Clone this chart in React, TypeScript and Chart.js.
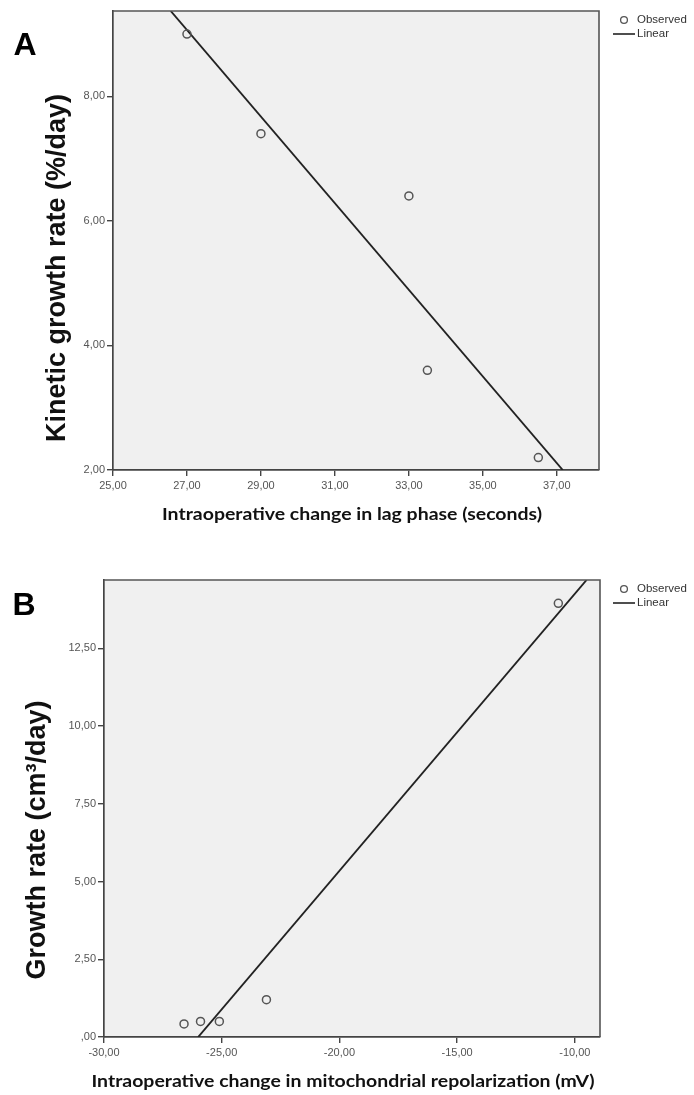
import React, { useEffect, useRef } from "react";
import { Chart, registerables } from "chart.js";

Chart.register(...registerables);

// ---------- Data (panel A) ----------
const obsXA = [27, 29, 33, 33.5, 36.5];
const obsYA = [9.0, 7.4, 6.4, 3.6, 2.2];
const fitXA = [26.56, 37.16];
const fitYA = [9.37, 2.0];
const xTicksA = [25, 27, 29, 31, 33, 35, 37];
const yTicksA = [2, 4, 6, 8];

// ---------- Data (panel B) ----------
const obsXB = [-26.6, -25.9, -25.1, -23.1, -10.7];
const obsYB = [0.42, 0.5, 0.5, 1.2, 13.95];
const fitXB = [-26.0, -9.5];
const fitYB = [0.0, 14.7];
const xTicksB = [-30, -25, -20, -15, -10];
const yTicksB = [0, 2.5, 5, 7.5, 10, 12.5];

const seriesLabels = ["Observed", "Linear"];

const fmt = (v: number) => {
  let s = Number(v).toFixed(2).replace(".", ",");
  s = s.replace(/^(-?)0,/, "$1,");
  return s;
};

const ARIAL = '"Liberation Sans", Arial, sans-serif';

type PanelCfg = {
  letter: string;
  letterX: number;
  letterY: number;
  obsX: number[];
  obsY: number[];
  fitX: number[];
  fitY: number[];
  xTicks: number[];
  yTicks: number[];
  xMin: number;
  xMax: number;
  yMin: number;
  yMax: number;
  yAxisW: number;
  xAxisH: number;
  padTop: number;
  padRight: number;
  yTitle: string;
  yTitleX: number;
  yTitleY: number;
  yTitleSize: number;
  xTitle: string;
  xTitleX: number;
  xTitleY: number;
  xTitleW: number;
  legendX: number;
  legendY: number;
};

function framePlugin(p: PanelCfg) {
  return {
    id: "frame" + p.letter,
    beforeDraw(chart: any) {
      const { ctx, chartArea: a } = chart;
      ctx.save();
      ctx.fillStyle = "#f0f0f0";
      ctx.fillRect(a.left, a.top, a.right - a.left, a.bottom - a.top);
      ctx.restore();
    },
    afterDraw(chart: any) {
      const { ctx, chartArea: a } = chart;
      ctx.save();
      // frame (top and right)
      ctx.strokeStyle = "#555";
      ctx.lineWidth = 1.6;
      ctx.beginPath();
      ctx.moveTo(a.left, a.top);
      ctx.lineTo(a.right, a.top);
      ctx.lineTo(a.right, a.bottom);
      ctx.stroke();

      // panel letter
      ctx.fillStyle = "#000";
      ctx.font = `bold 32px ${ARIAL}`;
      ctx.textAlign = "center";
      ctx.textBaseline = "middle";
      ctx.fillText(p.letter, p.letterX, p.letterY);

      // y title
      ctx.save();
      ctx.translate(p.yTitleX, p.yTitleY);
      ctx.rotate(-Math.PI / 2);
      ctx.font = `bold ${p.yTitleSize}px ${ARIAL}`;
      ctx.fillStyle = "#111";
      ctx.textAlign = "center";
      ctx.textBaseline = "middle";
      ctx.fillText(p.yTitle, 0, 0);
      ctx.restore();

      // x title
      ctx.save();
      ctx.font = `bold 17px Lato, "Open Sans", sans-serif`;
      const w = ctx.measureText(p.xTitle).width;
      ctx.translate(p.xTitleX, p.xTitleY);
      ctx.scale(p.xTitleW / w, 1);
      ctx.fillStyle = "#111";
      ctx.textAlign = "center";
      ctx.textBaseline = "middle";
      ctx.fillText(p.xTitle, 0, 0);
      ctx.restore();

      // legend
      const lx = p.legendX;
      const ly = p.legendY;
      ctx.font = `11.5px ${ARIAL}`;
      ctx.fillStyle = "#333";
      ctx.textAlign = "left";
      ctx.textBaseline = "middle";
      ctx.strokeStyle = "#555";
      ctx.lineWidth = 1.3;
      ctx.beginPath();
      ctx.arc(lx + 11, ly, 3.4, 0, Math.PI * 2);
      ctx.stroke();
      ctx.fillText(seriesLabels[0], lx + 24, ly);
      ctx.strokeStyle = "#222";
      ctx.lineWidth = 1.6;
      ctx.beginPath();
      ctx.moveTo(lx, ly + 14);
      ctx.lineTo(lx + 22, ly + 14);
      ctx.stroke();
      ctx.fillText(seriesLabels[1], lx + 24, ly + 14);
      ctx.restore();
    },
  };
}

function makeConfig(p: PanelCfg): any {
  const tickFont = { family: ARIAL, size: 11 };
  return {
    type: "scatter",
    data: {
      datasets: [
        {
          label: seriesLabels[0],
          data: p.obsX.map((x, i) => ({ x, y: p.obsY[i] })),
          showLine: false,
          pointRadius: 4,
          pointHoverRadius: 4,
          pointBorderWidth: 1.5,
          borderColor: "#555",
          backgroundColor: "rgba(0,0,0,0)",
        },
        {
          label: seriesLabels[1],
          data: p.fitX.map((x, i) => ({ x, y: p.fitY[i] })),
          showLine: true,
          pointRadius: 0,
          borderColor: "#222",
          backgroundColor: "#222",
          borderWidth: 1.9,
        },
      ],
    },
    options: {
      responsive: false,
      animation: false,
      events: [],
      layout: { padding: { left: 0, top: p.padTop, right: p.padRight, bottom: 0 } },
      plugins: { legend: { display: false }, tooltip: { enabled: false } },
      scales: {
        x: {
          type: "linear",
          min: p.xMin,
          max: p.xMax,
          afterFit: (s: any) => {
            s.height = p.xAxisH;
          },
          afterBuildTicks: (s: any) => {
            s.ticks = p.xTicks.map((v) => ({ value: v }));
          },
          ticks: {
            callback: (v: any) => fmt(v),
            font: tickFont,
            color: "#555",
            padding: 3,
            maxRotation: 0,
            autoSkip: false,
          },
          grid: {
            display: true,
            drawOnChartArea: false,
            drawTicks: true,
            tickLength: 6,
            color: "#444",
            lineWidth: 1.4,
          },
          border: { display: true, color: "#444", width: 1.7 },
        },
        y: {
          type: "linear",
          min: p.yMin,
          max: p.yMax,
          afterFit: (s: any) => {
            s.width = p.yAxisW;
          },
          afterBuildTicks: (s: any) => {
            s.ticks = p.yTicks.map((v) => ({ value: v }));
          },
          ticks: {
            callback: (v: any) => fmt(v),
            font: tickFont,
            color: "#555",
            padding: 2,
            autoSkip: false,
          },
          grid: {
            display: true,
            drawOnChartArea: false,
            drawTicks: true,
            tickLength: 6,
            color: "#444",
            lineWidth: 1.4,
          },
          border: { display: true, color: "#444", width: 1.7 },
        },
      },
    },
    plugins: [framePlugin(p)],
  };
}

const panelA: PanelCfg = {
  letter: "A",
  letterX: 25,
  letterY: 46,
  obsX: obsXA,
  obsY: obsYA,
  fitX: fitXA,
  fitY: fitYA,
  xTicks: xTicksA,
  yTicks: yTicksA,
  xMin: 25,
  xMax: 38.14,
  yMin: 2,
  yMax: 9.37,
  yAxisW: 113,
  xAxisH: 75,
  padTop: 11,
  padRight: 95,
  yTitle: "Kinetic growth rate (%/day)",
  yTitleX: 58,
  yTitleY: 268,
  yTitleSize: 27,
  xTitle: "Intraoperative change in lag phase (seconds)",
  xTitleX: 352,
  xTitleY: 515,
  xTitleW: 380,
  legendX: 613,
  legendY: 20,
};

const panelB: PanelCfg = {
  letter: "B",
  letterX: 24,
  letterY: 61,
  obsX: obsXB,
  obsY: obsYB,
  fitX: fitXB,
  fitY: fitYB,
  xTicks: xTicksB,
  yTicks: yTicksB,
  xMin: -30,
  xMax: -8.93,
  yMin: 0,
  yMax: 14.7,
  yAxisW: 104,
  xAxisH: 58,
  padTop: 35,
  padRight: 94,
  yTitle: "Growth rate (cm³/day)",
  yTitleX: 38,
  yTitleY: 295,
  yTitleSize: 27,
  xTitle: "Intraoperative change in mitochondrial repolarization (mV)",
  xTitleX: 343,
  xTitleY: 537,
  xTitleW: 503,
  legendX: 613,
  legendY: 44,
};

function Panel({ cfg, top, height }: { cfg: PanelCfg; top: number; height: number }) {
  const ref = useRef<HTMLCanvasElement>(null);
  useEffect(() => {
    const chart = new Chart(ref.current as HTMLCanvasElement, makeConfig(cfg));
    return () => chart.destroy();
  }, [cfg]);
  return (
    <canvas
      ref={ref}
      width={694}
      height={height}
      style={{ position: "absolute", left: 0, top, width: 694, height, display: "block" }}
    />
  );
}

export default function App() {
  useEffect(() => {
    document.body.style.margin = "0";
    document.body.style.background = "#fff";
  }, []);
  return (
    <div style={{ position: "relative", width: 694, height: 1095, background: "#fff", overflow: "hidden" }}>
      <Panel cfg={panelA} top={0} height={545} />
      <Panel cfg={panelB} top={545} height={550} />
    </div>
  );
}
